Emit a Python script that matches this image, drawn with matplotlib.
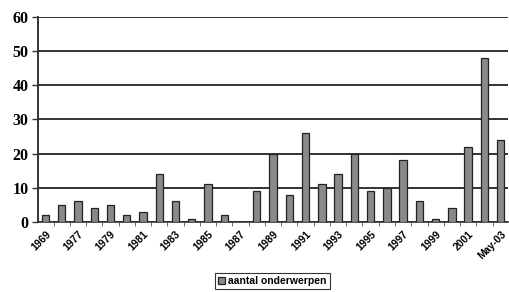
import matplotlib
matplotlib.use("Agg")
import matplotlib.pyplot as plt
import numpy as np

# categories (every other one gets a label)
categories = ["1969", "1976", "1977", "1978", "1979", "1980", "1981", "1982",
              "1983", "1984", "1985", "1986", "1987", "1988", "1989", "1990",
              "1991", "1992", "1993", "1994", "1995", "1996", "1997", "1998",
              "1999", "2000", "2001", "2002", "May-03"]
aantal = [2, 5, 6, 4, 5, 2, 3, 14, 6, 1, 11, 2, 0, 9, 20, 8,
          26, 11, 14, 20, 9, 10, 18, 6, 1, 4, 22, 48, 24]

fig = plt.figure(figsize=(5.09, 2.92), dpi=100)
ax = fig.add_axes([0.075, 0.24, 0.923, 0.702])

xpos = np.arange(len(categories))
ax.bar(xpos, aantal, width=0.45, color="#8a8a8a", edgecolor="#222222",
       linewidth=0.9, label="aantal onderwerpen", zorder=3)

ax.set_ylim(0, 60)
ax.set_xlim(-0.45, 28.45)
ax.set_yticks(range(0, 61, 10))
ax.yaxis.grid(True, color="#333333", linewidth=1.4, zorder=0)
ax.set_axisbelow(True)

for lab in ax.get_yticklabels():
    lab.set_family("Liberation Serif")
    lab.set_fontweight("bold")
    lab.set_fontsize(11.5)
ax.tick_params(axis="y", length=4, width=1, color="#333333", pad=3)

ax.set_xticks(xpos[::2])
ax.set_xticklabels(categories[::2], rotation=45, ha="right", rotation_mode="anchor",
                   fontsize=7.5, fontweight="bold", family="Liberation Sans")
ax.set_xticks(xpos[:-1] + 0.5, minor=True)
ax.tick_params(axis="x", which="major", length=0, pad=5)
ax.tick_params(axis="x", which="minor", length=3, color="#555555")

for s in ["top", "right"]:
    ax.spines[s].set_visible(False)
ax.spines["left"].set_color("#333333")
ax.spines["left"].set_linewidth(1.4)
ax.spines["bottom"].set_color("#333333")
ax.spines["bottom"].set_linewidth(1.2)

leg = fig.legend(loc="center",
                 prop={"family": "Liberation Sans", "weight": "bold", "size": 7.5},
                 frameon=True, fancybox=False, edgecolor="black",
                 handlelength=0.7, handleheight=0.7, handletextpad=0.3,
                 borderpad=0.3)
leg.get_frame().set_linewidth(0.8)
leg.set_bbox_to_anchor((0.535, 0.037), transform=fig.transFigure)

fig.savefig("out.png", dpi=100)
